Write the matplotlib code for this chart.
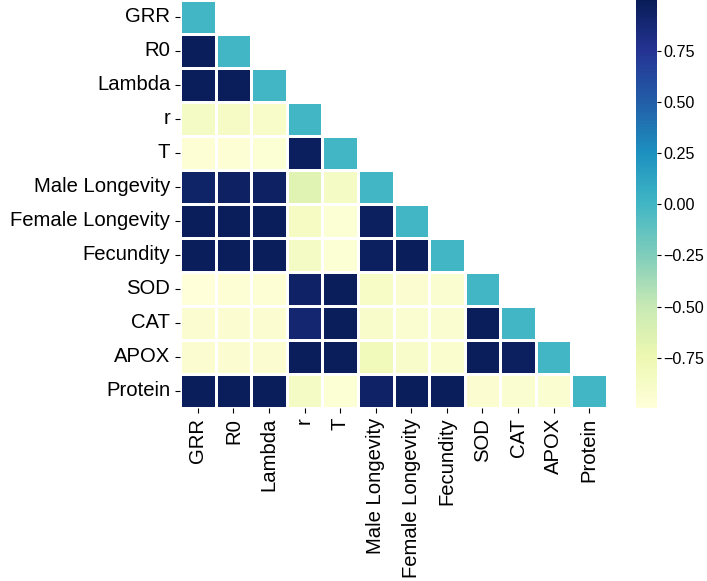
import matplotlib
matplotlib.use("Agg")
import matplotlib.pyplot as plt
import numpy as np
import pandas as pd
import seaborn as sns

plt.rcParams["font.family"] = ["Liberation Sans", "DejaVu Sans"]

labels = ["GRR", "R0", "Lambda", "r", "T", "Male Longevity", "Female Longevity",
          "Fecundity", "SOD", "CAT", "APOX", "Protein"]

# lower triangle, row by row (diagonal is shown as 0)
rows = [
    [0.0],
    [0.99, 0.0],
    [0.99, 0.99, 0.0],
    [-0.86, -0.87, -0.89, 0.0],
    [-0.96, -0.96, -0.95, 0.97, 0.0],
    [0.93, 0.95, 0.95, -0.66, -0.86, 0.0],
    [0.99, 0.99, 0.99, -0.85, -0.95, 0.96, 0.0],
    [0.99, 0.99, 0.99, -0.86, -0.95, 0.96, 0.99, 0.0],
    [-0.99, -0.96, -0.96, 0.94, 0.99, -0.88, -0.94, -0.93, 0.0],
    [-0.94, -0.94, -0.94, 0.90, 0.99, -0.90, -0.93, -0.93, 0.99, 0.0],
    [-0.94, -0.94, -0.94, 0.98, 0.98, -0.80, -0.90, -0.92, 0.98, 0.96, 0.0],
    [0.99, 0.99, 0.99, -0.86, -0.95, 0.94, 0.99, 0.99, -0.94, -0.93, -0.93, 0.0],
]

n = len(labels)
corr = np.zeros((n, n))
for i, row in enumerate(rows):
    corr[i, :len(row)] = row
corr = corr + np.tril(corr, -1).T
df = pd.DataFrame(corr, index=labels, columns=labels)

# hide upper triangle, keep diagonal
mask = np.triu(np.ones_like(corr, dtype=bool), k=1)

fig = plt.figure(figsize=(7.07, 5.81), dpi=100)
ax = fig.add_axes([0.2546, 0.2978, 0.604, 0.7022])
cax = fig.add_axes([0.8996, 0.2978, 0.03, 0.7022])

sns.heatmap(df, mask=mask, cmap="YlGnBu", vmin=-0.995, vmax=0.998,
            linewidths=0.8, linecolor="white",
            ax=ax, cbar_ax=cax)

ax.tick_params(axis="both", labelsize=14.6, length=3.5)
ax.set_xticklabels(labels, rotation=90)
ax.set_yticklabels(labels, rotation=0)
cax.tick_params(labelsize=11.6, length=3, pad=1.5)

fig.savefig("out.png", dpi=100)
